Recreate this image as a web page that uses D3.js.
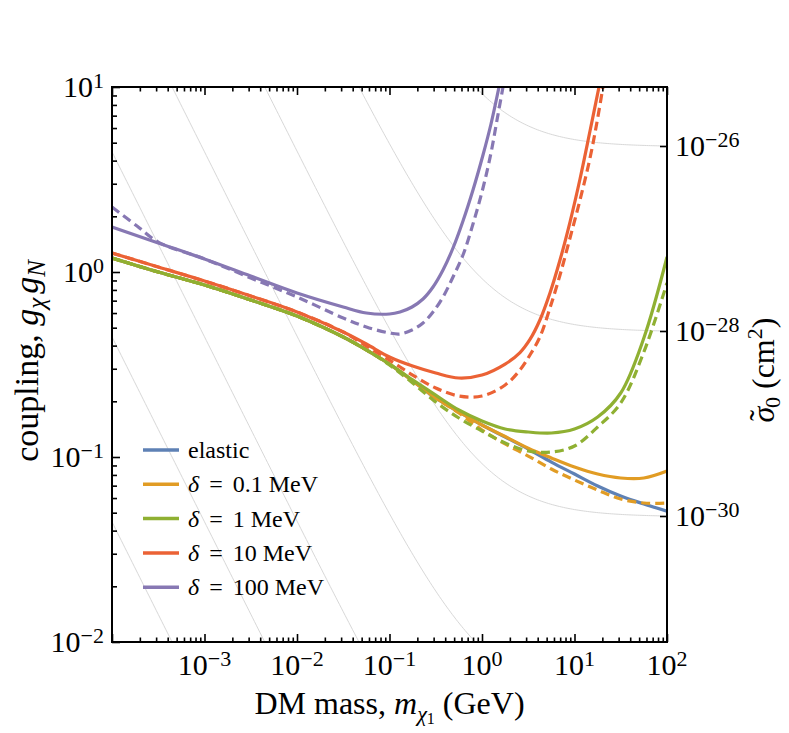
<!DOCTYPE html>
<html><head><meta charset="utf-8">
<script src="https://cdn.jsdelivr.net/npm/d3@7"></script>
<style>
body{margin:0;background:#fff}
svg{display:block}
text{font-family:"Liberation Serif","Times New Roman",serif;fill:#000}
</style>
</head><body>
<svg id="chart" width="789" height="733"></svg>
<script>
// ---------------- data ----------------
// DM mass grid (GeV) shared by elastic / 0.1 MeV / 1 MeV curves
const mGrid = [1e-4, 3.16e-4, 1e-3, 3.16e-3, 0.01, 0.0316, 0.0562, 0.1, 0.178, 0.316, 0.562, 1.0, 1.78, 3.16, 5.62, 10, 17.8, 31.6, 56.2, 100];
const gElastic       = [1.190, 1.0, 0.851, 0.706, 0.578, 0.445, 0.379, 0.318, 0.2575, 0.2084, 0.1751, 0.1489, 0.1282, 0.1105, 0.0939, 0.0809, 0.0697, 0.0615, 0.0557, 0.0510];
const gDelta01       = [1.190, 1.0, 0.851, 0.706, 0.578, 0.445, 0.379, 0.318, 0.2575, 0.2084, 0.1751, 0.1489, 0.1290, 0.1115, 0.0988, 0.0883, 0.0809, 0.0770, 0.0770, 0.0840];
const gDelta01Dashed = [1.190, 1.0, 0.851, 0.706, 0.578, 0.445, 0.379, 0.318, 0.2575, 0.2084, 0.1729, 0.1399, 0.1176, 0.1012, 0.0861, 0.0751, 0.0663, 0.0593, 0.0564, 0.0564];
const gDelta1        = [1.190, 1.0, 0.851, 0.706, 0.578, 0.445, 0.379, 0.318, 0.261, 0.216, 0.1795, 0.1565, 0.1417, 0.1365, 0.1348, 0.1417, 0.1645, 0.2218, 0.4397, 1.205];
const gDelta1Dashed  = [1.190, 1.0, 0.851, 0.706, 0.578, 0.445, 0.379, 0.3144, 0.2512, 0.1983, 0.1625, 0.1382, 0.1190, 0.1078, 0.1064, 0.1147, 0.1453, 0.1958, 0.3694, 0.872];

const mDelta10       = [1e-4, 3.16e-4, 1e-3, 3.16e-3, 0.01, 0.0316, 0.0562, 0.1, 0.178, 0.316, 0.562, 1.0, 1.78, 2.575, 3.30, 4.24, 5.43, 6.97, 8.94, 11.47, 14.71, 18.4];
const gDelta10       = [1.267, 1.064, 0.894, 0.742, 0.608, 0.474, 0.408, 0.347, 0.310, 0.2844, 0.2673, 0.2774, 0.318, 0.367, 0.432, 0.552, 0.770, 1.161, 1.863, 3.183, 5.78, 10.0];
const mDelta10Dashed = [1e-4, 3.16e-4, 1e-3, 3.16e-3, 0.01, 0.0316, 0.0562, 0.1, 0.178, 0.316, 0.562, 1.0, 1.78, 2.575, 3.30, 4.24, 5.43, 6.97, 8.94, 11.47, 14.71, 17.51, 20.3];
const gDelta10Dashed = [1.267, 1.064, 0.894, 0.742, 0.608, 0.474, 0.398, 0.334, 0.2774, 0.236, 0.2137, 0.2137, 0.245, 0.2954, 0.356, 0.447, 0.639, 0.963, 1.527, 2.45, 4.13, 6.47, 10.0];

const mDelta100       = [1e-4, 3.16e-4, 1e-3, 3.16e-3, 0.01, 0.0316, 0.0562, 0.1, 0.1299, 0.1751, 0.2303, 0.2954, 0.3788, 0.486, 0.623, 0.799, 1.025, 1.251, 1.527];
const gDelta100       = [1.751, 1.435, 1.176, 0.951, 0.770, 0.647, 0.6005, 0.593, 0.608, 0.647, 0.7146, 0.8297, 1.025, 1.348, 1.887, 2.775, 4.29, 6.31, 10.0];
const mDelta100Dashed = [1e-4, 1.863e-4, 3.16e-4, 1e-3, 3.16e-3, 0.01, 0.0316, 0.0562, 0.1, 0.1299, 0.1751, 0.2303, 0.2954, 0.3788, 0.486, 0.623, 0.799, 1.025, 1.251, 1.453, 1.687];
const gDelta100Dashed = [2.245, 1.773, 1.452, 1.176, 0.928, 0.7326, 0.564, 0.5043, 0.468, 0.4623, 0.486, 0.530, 0.608, 0.7326, 0.9397, 1.236, 1.817, 2.845, 4.40, 6.63, 10.0];

const legendLabels = ["elastic", "0.1", "1", "10", "100"];
const xTickExponents = [-3, -2, -1, 0, 1, 2];
const yTickExponents = [-2, -1, 0, 1];
const sigmaTickExponents = [-26, -28, -30];
// iso-cross-section reference contours (cm^2)
const sigmaLevels = [1e-26, 1e-28, 1e-30, 1e-32, 1e-34, 1e-36, 1e-38];

// ---------------- layout ----------------
const L = 112, R = 667, T = 87, B = 642;
const colors = ["#5E81B5", "#E19C24", "#8FB032", "#EB6235", "#8778B3"];
const svg = d3.select("#chart");
const x = d3.scaleLog().domain([1e-4, 1e2]).range([L, R]);
const y = d3.scaleLog().domain([1e-2, 1e1]).range([B, T]);

// sigma <-> coupling conversion (sigma ∝ g^2 mu^2, mu = reduced mass with nucleon)
const mN = 0.938;
const mu = m => m * mN / (m + mN);
const gmuRef = 4.458, sigmaRef = 1e-26;
const gFromSigma = (s, m) => Math.sqrt(s / sigmaRef) * gmuRef / mu(m);

svg.append("clipPath").attr("id", "clip").append("rect")
  .attr("x", L).attr("y", T).attr("width", R - L).attr("height", B - T);
const plot = svg.append("g").attr("clip-path", "url(#clip)");

// gray contours
const massSamples = d3.range(0, 301).map(i => Math.pow(10, -4 + 6 * i / 300));
const line = d3.line().x(d => x(d[0])).y(d => y(d[1]));
sigmaLevels.forEach(s => {
  plot.append("path").datum(massSamples.map(m => [m, gFromSigma(s, m)]))
    .attr("d", line).attr("fill", "none").attr("stroke", "#d8d8d8").attr("stroke-width", 1);
});

const curve = d3.line().x(d => x(d[0])).y(d => y(d[1])).curve(d3.curveCatmullRom.alpha(0.5));
const zip = (ms, gs) => ms.map((m, i) => [m, gs[i]]);
const series = [
  [mGrid, gElastic, 0, false],
  [mGrid, gDelta01, 1, false], [mGrid, gDelta01Dashed, 1, true],
  [mGrid, gDelta1, 2, false], [mGrid, gDelta1Dashed, 2, true],
  [mDelta10, gDelta10, 3, false], [mDelta10Dashed, gDelta10Dashed, 3, true],
  [mDelta100, gDelta100, 4, false], [mDelta100Dashed, gDelta100Dashed, 4, true]
];
series.forEach(([ms, gs, ci, dashed]) => {
  plot.append("path").datum(zip(ms, gs)).attr("d", curve)
    .attr("fill", "none").attr("stroke", colors[ci]).attr("stroke-width", 3.2)
    .attr("stroke-dasharray", dashed ? "9,5" : null);
});

// ---------------- axes / ticks ----------------
const decadesX = d3.range(-4, 2).map(e => Math.pow(10, e));
const decadesY = d3.range(-2, 1).map(e => Math.pow(10, e));
const minorX = decadesX.flatMap(d => d3.range(2, 10).map(k => k * d));
const minorY = decadesY.flatMap(d => d3.range(2, 10).map(k => k * d));
const majorX = d3.range(-4, 3).map(e => Math.pow(10, e));
const majorY = d3.range(-2, 2).map(e => Math.pow(10, e));

function ticks(axisGen, vals, size, tx, ty) {
  const g = svg.append("g").attr("transform", `translate(${tx},${ty})`)
    .call(axisGen.tickValues(vals).tickSize(size).tickFormat(""));
  g.select(".domain").remove();
  g.selectAll("line").attr("stroke", "#000").attr("stroke-width", 1.6);
}
ticks(d3.axisBottom(x), majorX, -8, 0, B);
ticks(d3.axisBottom(x), minorX, -4.5, 0, B);
ticks(d3.axisTop(x), majorX, -8, 0, T);
ticks(d3.axisTop(x), minorX, -4.5, 0, T);
ticks(d3.axisLeft(y), majorY, -8, L, 0);
ticks(d3.axisLeft(y), minorY, -5, L, 0);
const sigmaY = s => y(gFromSigma(s, 100));
ticks(d3.axisRight(d3.scaleIdentity()), sigmaTickExponents.map(e => sigmaY(Math.pow(10, e))), -7, R, 0);

svg.append("rect").attr("x", L).attr("y", T).attr("width", R - L).attr("height", B - T)
  .attr("fill", "none").attr("stroke", "#000").attr("stroke-width", 2);

function powLabel(xp, yp, exp, anchor) {
  const t = svg.append("text").attr("x", xp).attr("y", yp).attr("text-anchor", anchor)
    .attr("font-size", 30);
  t.append("tspan").text("10");
  t.append("tspan").attr("dy", -9).attr("font-size", 22).text(String(exp).replace("-", "\u2212"));
}
xTickExponents.forEach(e => powLabel(x(Math.pow(10, e)), B + 33, e, "middle"));
yTickExponents.forEach(e => powLabel(L - 8, y(Math.pow(10, e)) + 10, e, "end"));
sigmaTickExponents.forEach(e => powLabel(R + 8, sigmaY(Math.pow(10, e)) + 10, e, "start"));

// axis titles
const xt = svg.append("text").attr("x", (L + R) / 2).attr("y", 714).attr("text-anchor", "middle").attr("font-size", 32);
xt.append("tspan").text("DM mass, ");
xt.append("tspan").attr("font-style", "italic").text("m");
xt.append("tspan").attr("font-style", "italic").attr("font-size", 22).attr("dy", 7).text("\u03C7");
xt.append("tspan").attr("font-size", 16).attr("dy", 3).text("1");
xt.append("tspan").attr("dy", -10).text(" (GeV)");

const yt = svg.append("text").attr("transform", `translate(38,361) rotate(-90)`)
  .attr("text-anchor", "middle").attr("font-size", 34);
yt.append("tspan").text("coupling, ");
yt.append("tspan").attr("font-style", "italic").text("g");
yt.append("tspan").attr("font-style", "italic").attr("font-size", 25).attr("dy", 7).text("\u03C7");
yt.append("tspan").attr("font-style", "italic").attr("dx", 4).attr("dy", -7).text("g");
yt.append("tspan").attr("font-style", "italic").attr("font-size", 25).attr("dy", 7).text("N");

const rt = svg.append("text").attr("transform", `translate(774,370) rotate(-90)`)
  .attr("text-anchor", "middle").attr("font-size", 32);
rt.append("tspan").attr("font-style", "italic").text("\u03C3");
rt.append("tspan").attr("dx", -14).attr("dy", -3).text("\u02DC");
rt.append("tspan").attr("font-size", 22).attr("dx", 2).attr("dy", 9).text("0");
rt.append("tspan").attr("dy", -6).text(" (cm");
rt.append("tspan").attr("font-size", 22).attr("dy", -12).text("2");
rt.append("tspan").attr("dy", 12).text(")");

// legend
const lg = svg.append("g");
legendLabels.forEach((lab, i) => {
  const cy = 450 + i * 34.3;
  lg.append("line").attr("x1", 143).attr("x2", 179).attr("y1", cy).attr("y2", cy)
    .attr("stroke", colors[i]).attr("stroke-width", 3.5);
  const t = lg.append("text").attr("x", 188).attr("y", cy + 8).attr("font-size", 24);
  if (i === 0) t.text(lab);
  else {
    t.append("tspan").attr("font-style", "italic").text("\u03B4");
    t.append("tspan").attr("dx", 10).text("=");
    t.append("tspan").attr("dx", 10).text(lab + " MeV");
  }
});
</script>
</body></html>
